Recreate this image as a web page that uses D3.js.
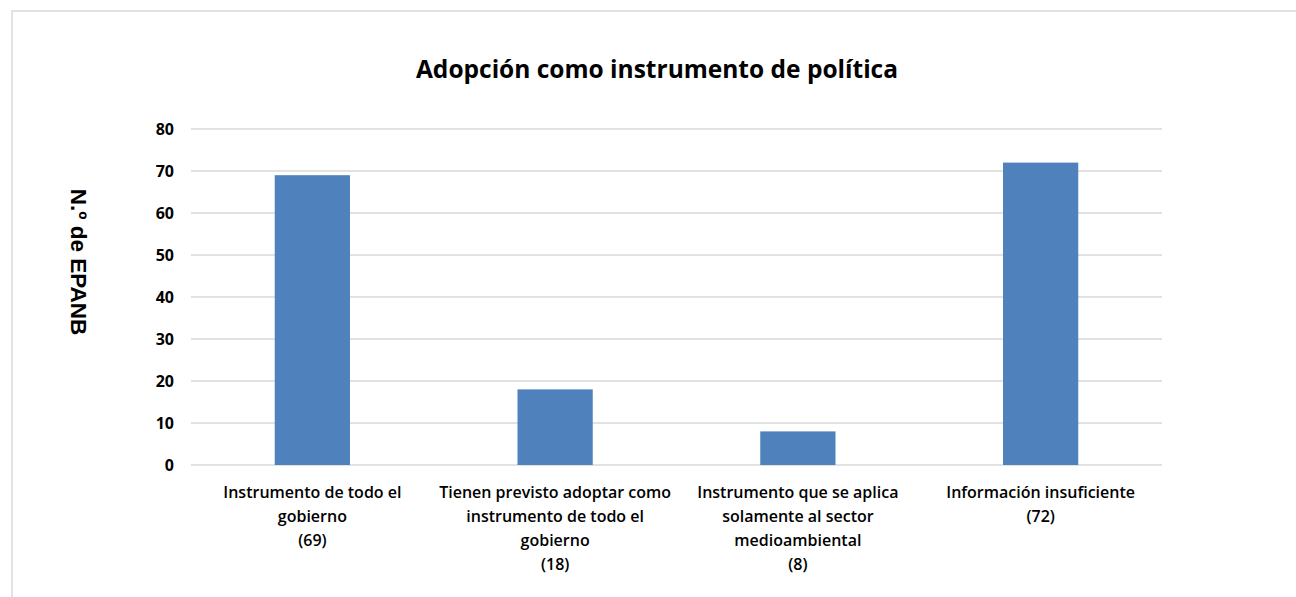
<!DOCTYPE html>
<html>
<head>
<meta charset="utf-8">
<script src="https://cdn.jsdelivr.net/npm/d3@7"></script>
<style>
  body { margin: 0; background: #fff; }
  svg { display: block; }
</style>
</head>
<body>
<div id="chart"></div>
<script>
const width = 1296;
const height = 597;

// data
const categories = [
  "Instrumento de todo el gobierno",
  "Tienen previsto adoptar como instrumento de todo el gobierno",
  "Instrumento que se aplica solamente al sector medioambiental",
  "Información insuficiente"
];
const labelLines = [
  ["Instrumento de todo el", "gobierno"],
  ["Tienen previsto adoptar como", "instrumento de todo el", "gobierno"],
  ["Instrumento que se aplica", "solamente al sector", "medioambiental"],
  ["Información insuficiente"]
];
const values = [69, 18, 8, 72];
const yTicks = [0, 10, 20, 30, 40, 50, 60, 70, 80];

const svg = d3.select("#chart")
  .append("svg")
  .attr("width", width)
  .attr("height", height);

// outer chart frame (runs off right / bottom)
svg.append("rect")
  .attr("x", 12)
  .attr("y", 11)
  .attr("width", 1300)
  .attr("height", 620)
  .attr("fill", "none")
  .attr("stroke", "#d9d9d9")
  .attr("stroke-width", 1.5);

const x = d3.scaleBand()
  .domain(categories)
  .range([191, 1162])
  .paddingInner(0.69)
  .paddingOuter(0.345);

const y = d3.scaleLinear()
  .domain([0, 80])
  .range([465, 129]);

// gridlines
svg.append("g")
  .selectAll("line")
  .data(yTicks)
  .enter()
  .append("line")
  .attr("x1", 191)
  .attr("x2", 1162)
  .attr("y1", d => y(d))
  .attr("y2", d => y(d))
  .attr("stroke", "#d9d9d9")
  .attr("stroke-width", 1.5);

// bars
svg.append("g")
  .selectAll("rect")
  .data(values)
  .enter()
  .append("rect")
  .attr("x", (d, i) => x(categories[i]))
  .attr("y", d => y(d))
  .attr("width", x.bandwidth())
  .attr("height", d => y(0) - y(d))
  .attr("fill", "#4f81bd");

// y tick labels
svg.append("g")
  .selectAll("text")
  .data(yTicks)
  .enter()
  .append("text")
  .attr("x", 174)
  .attr("y", d => y(d))
  .attr("dy", "0.35em")
  .attr("text-anchor", "end")
  .attr("font-family", "'Open Sans', sans-serif")
  .attr("font-weight", "bold")
  .attr("font-size", 16)
  .attr("fill", "#000")
  .text(d => d);

// category labels
const labels = svg.append("g")
  .selectAll("text")
  .data(categories)
  .enter()
  .append("text")
  .attr("text-anchor", "middle")
  .attr("font-family", "'Open Sans', sans-serif")
  .attr("font-weight", 600)
  .attr("font-size", 16)
  .attr("fill", "#000");

labels.each(function(d, i) {
  const lines = labelLines[i].concat([`(${values[i]})`]);
  const cx = x(d) + x.bandwidth() / 2;
  d3.select(this).selectAll("tspan")
    .data(lines)
    .enter()
    .append("tspan")
    .attr("x", cx)
    .attr("y", (l, j) => 498 + j * 24)
    .text(l => l);
});

// title
svg.append("text")
  .attr("x", 657)
  .attr("y", 78)
  .attr("text-anchor", "middle")
  .attr("font-family", "'Open Sans', sans-serif")
  .attr("font-weight", "bold")
  .attr("font-size", 24.5)
  .attr("fill", "#000")
  .text("Adopción como instrumento de política");

// y axis title
svg.append("text")
  .attr("transform", "translate(71,262) rotate(90)")
  .attr("text-anchor", "middle")
  .attr("font-family", "'Liberation Sans', Arial, sans-serif")
  .attr("font-weight", "bold")
  .attr("font-size", 22.5)
  .attr("fill", "#000")
  .text("N.º de EPANB");
</script>
</body>
</html>
